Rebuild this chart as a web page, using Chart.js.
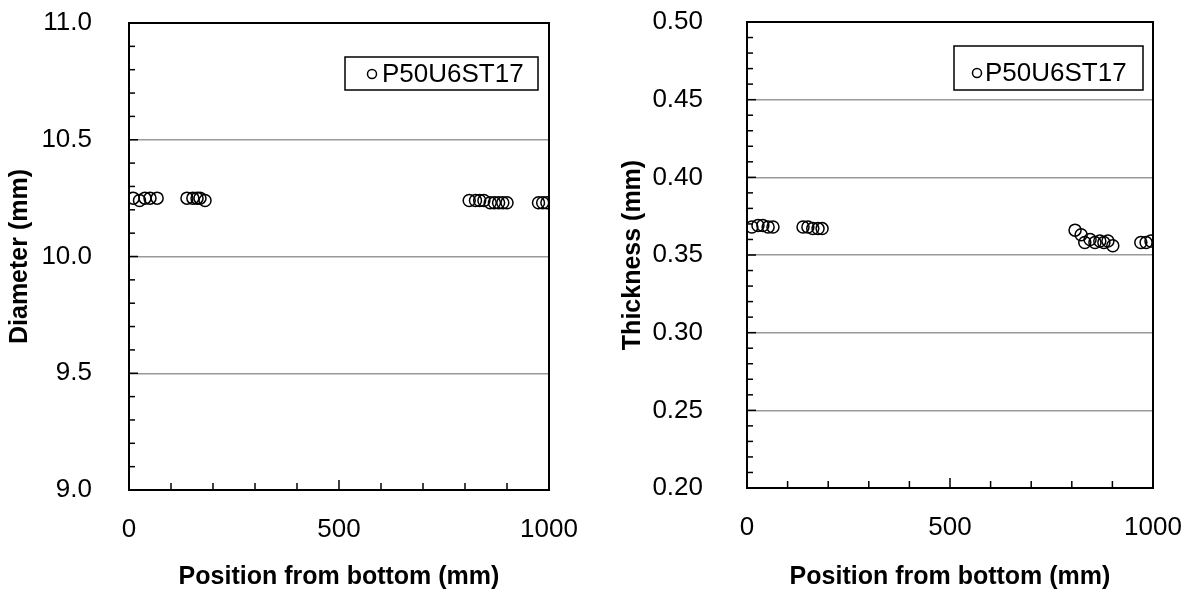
<!DOCTYPE html>
<html>
<head>
<meta charset="utf-8">
<script src="https://cdn.jsdelivr.net/npm/chart.js@4"></script>
<style>
  body { margin: 0; background: #fff; }
  .wrap { position: absolute; top: 0; height: 593px; }
</style>
</head>
<body>
<div class="wrap" style="left:0;width:597px"><canvas id="chartDiameter"></canvas></div>
<div class="wrap" style="left:597px;width:598px"><canvas id="chartThickness"></canvas></div>
<script>
// data
const seriesName = "P50U6ST17";
const xTitle = "Position from bottom (mm)";

const posDiameter = [10, 25, 38, 50, 67, 138, 152, 162, 169, 181, 810, 825, 835, 845, 860, 870, 880, 890, 900, 975, 985, 995];
const diameter = [10.25, 10.24, 10.25, 10.25, 10.25, 10.25, 10.25, 10.25, 10.25, 10.24,
  10.24, 10.24, 10.24, 10.24, 10.23, 10.23, 10.23, 10.23, 10.23, 10.23, 10.23, 10.23];

const posThickness = [12, 27, 39, 52, 64, 138, 150, 162, 175, 185, 808, 823, 832, 845, 857, 869, 879, 889, 901, 970, 983, 995];
const thickness = [0.368, 0.369, 0.369, 0.368, 0.368, 0.368, 0.368, 0.367, 0.367, 0.367,
  0.366, 0.363, 0.358, 0.360, 0.358, 0.359, 0.358, 0.359, 0.356, 0.358, 0.358, 0.359];

Chart.defaults.font.family = "'Liberation Sans', Arial, sans-serif";
Chart.defaults.color = "#000";

function isMajor(v, step) {
  return Math.abs(v / step - Math.round(v / step)) < 1e-6;
}

// frame + inward tick marks
const framePlugin = {
  id: "frame",
  afterDraw(chart) {
    const ctx = chart.ctx;
    const a = chart.chartArea;
    const xs = chart.scales.x, ys = chart.scales.y;
    const o = chart.options.plugins.frame;
    ctx.save();
    ctx.strokeStyle = "#000";
    ctx.lineWidth = 1.5;
    xs.ticks.forEach(t => {
      const px = xs.getPixelForValue(t.value);
      const len = isMajor(t.value, 500) ? 10 : 7;
      ctx.beginPath();
      ctx.moveTo(px, a.bottom);
      ctx.lineTo(px, a.bottom - len);
      ctx.stroke();
    });
    ys.ticks.forEach(t => {
      const py = ys.getPixelForValue(t.value);
      const len = isMajor(t.value, o.yMajor) ? 9 : 6;
      ctx.beginPath();
      ctx.moveTo(a.left, py);
      ctx.lineTo(a.left + len, py);
      ctx.stroke();
    });
    ctx.lineWidth = 2;
    ctx.strokeRect(a.left, a.top, a.right - a.left, a.bottom - a.top);
    ctx.restore();
  }
};

// legend box inside the plot
const boxLegend = {
  id: "boxLegend",
  afterDraw(chart) {
    const o = chart.options.plugins.boxLegend;
    const a = chart.chartArea;
    const ctx = chart.ctx;
    const right = a.right - o.right;
    const left = right - o.width;
    const top = a.top + o.top;
    ctx.save();
    ctx.fillStyle = "#fff";
    ctx.fillRect(left, top, o.width, o.height);
    ctx.strokeStyle = "#000";
    ctx.lineWidth = 1.5;
    ctx.strokeRect(left, top, o.width, o.height);
    const cy = top + o.height - o.textFromBottom;
    ctx.beginPath();
    ctx.arc(left + o.markX, cy, 4.5, 0, Math.PI * 2);
    ctx.stroke();
    ctx.fillStyle = "#000";
    ctx.font = "26px 'Liberation Sans', Arial, sans-serif";
    ctx.textBaseline = "middle";
    ctx.fillText(chart.data.datasets[0].label, left + o.textX, cy + 1);
    ctx.restore();
  }
};

function makeChart(id, xs, ys, cfg) {
  const points = xs.map((x, i) => ({ x: x, y: ys[i] }));
  return new Chart(document.getElementById(id), {
    type: "scatter",
    data: {
      datasets: [{
        label: seriesName,
        data: points,
        pointStyle: "circle",
        pointRadius: 6,
        pointBorderWidth: 1.5,
        borderColor: "#000",
        backgroundColor: "rgba(0,0,0,0)"
      }]
    },
    options: {
      responsive: true,
      maintainAspectRatio: false,
      animation: false,
      layout: { padding: cfg.padding },
      plugins: {
        legend: { display: false },
        tooltip: { enabled: false },
        frame: { yMajor: cfg.yMajor },
        boxLegend: cfg.legend
      },
      scales: {
        x: {
          type: "linear",
          min: 0,
          max: 1000,
          afterFit(s) {
            s.height = cfg.xHeight;
            s.paddingLeft = 0;
            s.paddingRight = 0;
          },
          ticks: {
            stepSize: 100,
            autoSkip: false,
            maxRotation: 0,
            padding: 24,
            font: { size: 26 },
            callback: v => (isMajor(v, 500) ? String(v) : "")
          },
          grid: { drawOnChartArea: false, drawTicks: false },
          border: { display: false },
          title: {
            display: true,
            text: xTitle,
            font: { size: 25, weight: "bold" },
            padding: { top: 1, bottom: 1 }
          }
        },
        y: {
          min: cfg.yMin,
          max: cfg.yMax,
          afterFit(s) {
            s.width = cfg.yWidth;
            s.paddingTop = cfg.top;
            s.paddingBottom = 0;
          },
          ticks: {
            stepSize: cfg.yMinor,
            autoSkip: false,
            padding: cfg.yTickPad,
            font: { size: 26 },
            callback: v => (isMajor(v, cfg.yMajor) ? v.toFixed(cfg.digits) : "")
          },
          grid: {
            drawTicks: false,
            lineWidth: 1.5,
            color: c => (isMajor(c.tick.value, cfg.yMajor) ? "#999" : "rgba(0,0,0,0)")
          },
          border: { display: false },
          title: {
            display: true,
            text: cfg.yTitle,
            font: { size: 25, weight: "bold" },
            padding: { top: 5, bottom: 5 }
          }
        }
      }
    },
    plugins: [framePlugin, boxLegend]
  });
}

makeChart("chartDiameter", posDiameter, diameter, {
  yTitle: "Diameter (mm)",
  yMin: 9.0, yMax: 11.0, yMajor: 0.5, yMinor: 0.1, digits: 1,
  top: 23,
  padding: { left: 0, top: 0, right: 48, bottom: 0 },
  yWidth: 129, xHeight: 103, yTickPad: 37,
  legend: { right: 11, top: 34, width: 193, height: 33, markX: 27, textX: 37, textFromBottom: 16 }
});

makeChart("chartThickness", posThickness, thickness, {
  yTitle: "Thickness (mm)",
  yMin: 0.20, yMax: 0.50, yMajor: 0.05, yMinor: 0.01, digits: 2,
  top: 22,
  padding: { left: 16, top: 0, right: 42, bottom: 0 },
  yWidth: 134, xHeight: 105, yTickPad: 44,
  legend: { right: 10, top: 24, width: 189, height: 44, markX: 23, textX: 31, textFromBottom: 17 }
});
</script>
</body>
</html>
